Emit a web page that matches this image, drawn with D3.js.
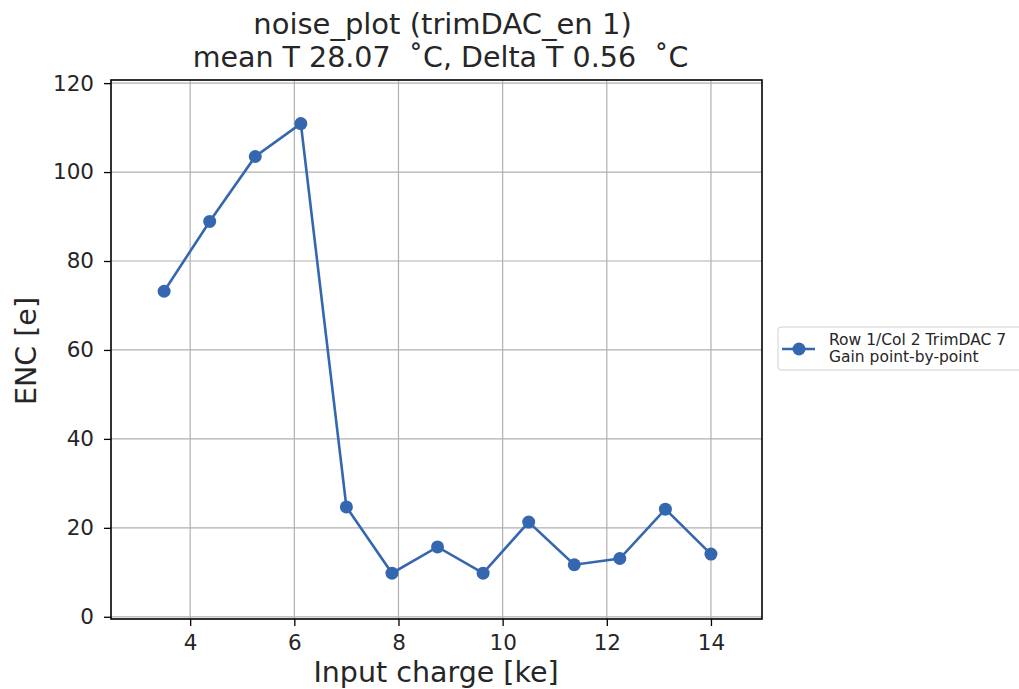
<!DOCTYPE html>
<html>
<head>
<meta charset="utf-8">
<script src="https://cdn.jsdelivr.net/npm/d3@7"></script>
<style>
body { margin:0; background:#fff; }
text { font-family: "DejaVu Sans", sans-serif; fill:#262626; }
.grid line { stroke:#b0b0b0; stroke-width:1.2; }
</style>
</head>
<body>
<script>
var charge = [3.5, 4.375, 5.25, 6.125, 7.0, 7.875, 8.75, 9.625, 10.5, 11.375, 12.25, 13.125, 14.0];
var enc = [73.2, 88.9, 103.5, 110.9, 24.7, 9.8, 15.7, 9.8, 21.3, 11.7, 13.1, 24.2, 14.1];
var xTicks = [4, 6, 8, 10, 12, 14];
var yTicks = [0, 20, 40, 60, 80, 100, 120];
var legendLines = ["Row 1/Col 2 TrimDAC 7", "Gain point-by-point"];

var W = 1019, H = 689;
var margin = {top:80, right:257, bottom:70, left:111};
var width = W - margin.left - margin.right;
var height = H - margin.top - margin.bottom;
var color = "#3467b0";

var svg = d3.select("body").append("svg").attr("width", W).attr("height", H);

var x = d3.scaleLinear().domain([2.48, 14.98]).range([0, width]);
var y = d3.scaleLinear().domain([-0.5, 120.7]).range([height, 0]);

var g = svg.append("g").attr("transform", "translate(" + margin.left + "," + margin.top + ")");

// grid
g.append("g").attr("class", "grid")
    .selectAll("line").data(xTicks).enter().append("line")
    .attr("x1", function(d){ return x(d); }).attr("x2", function(d){ return x(d); })
    .attr("y1", 0).attr("y2", height);
g.append("g").attr("class", "grid")
    .selectAll("line").data(yTicks).enter().append("line")
    .attr("y1", function(d){ return y(d); }).attr("y2", function(d){ return y(d); })
    .attr("x1", 0).attr("x2", width);

// axes
var xAxis = d3.axisBottom(x).tickValues(xTicks).tickSize(7).tickPadding(9).tickFormat(d3.format("d"));
var yAxis = d3.axisLeft(y).tickValues(yTicks).tickSize(7).tickPadding(10).tickFormat(d3.format("d"));
var ax = g.append("g").attr("transform", "translate(0," + height + ")").call(xAxis);
var ay = g.append("g").call(yAxis);
[ax, ay].forEach(function(a){
    a.select(".domain").remove();
    a.selectAll("line").attr("stroke", "#000").attr("stroke-width", 1.3);
    a.selectAll("text").attr("font-size", "21.5px").attr("fill", "#262626")
        .style("font-family", "'DejaVu Sans', sans-serif");
});

g.append("rect").attr("x", 0).attr("y", 0).attr("width", width).attr("height", height)
    .attr("fill", "none").attr("stroke", "#000").attr("stroke-width", 1.6);

// line + markers
var line = d3.line().x(function(d, i){ return x(charge[i]); }).y(function(d){ return y(d); });
g.append("path").datum(enc).attr("d", line)
    .attr("fill", "none").attr("stroke", color).attr("stroke-width", 2.6);
g.selectAll("circle.pt").data(enc).enter().append("circle").attr("class", "pt")
    .attr("cx", function(d, i){ return x(charge[i]); })
    .attr("cy", function(d){ return y(d); })
    .attr("r", 6.5).attr("fill", color);

// titles
svg.append("text").attr("x", margin.left + width/2 + 6).attr("y", 34).attr("text-anchor", "middle")
    .attr("font-size", "29px").text("noise_plot (trimDAC_en 1)");
svg.append("text").attr("x", margin.left + width/2 + 4).attr("y", 67).attr("text-anchor", "middle")
    .attr("font-size", "28.5px").attr("xml:space", "preserve").text("mean T 28.07  \u02daC, Delta T 0.56  \u02daC");

svg.append("text").attr("x", 436).attr("y", 682).attr("text-anchor", "middle")
    .attr("font-size", "28.5px").text("Input charge [ke]");
svg.append("text").attr("transform", "translate(36,351) rotate(-90)")
    .attr("text-anchor", "middle").attr("font-size", "28.5px").text("ENC [e]");

// legend
var lg = svg.append("g").attr("transform", "translate(778,327)");
lg.append("rect").attr("x", 0).attr("y", 0).attr("width", 260).attr("height", 43).attr("rx", 3)
    .attr("fill", "#fff").attr("stroke", "#d0d0d0");
lg.append("line").attr("x1", 4).attr("x2", 37).attr("y1", 22).attr("y2", 22)
    .attr("stroke", color).attr("stroke-width", 2.6);
lg.append("circle").attr("cx", 21).attr("cy", 22).attr("r", 6.5).attr("fill", color);
lg.selectAll("text.lbl").data(legendLines).enter().append("text").attr("class", "lbl")
    .attr("x", 51).attr("y", function(d, i){ return 18 + i*17; })
    .attr("font-size", "15.5px").text(function(d){ return d; });
</script>
</body>
</html>
